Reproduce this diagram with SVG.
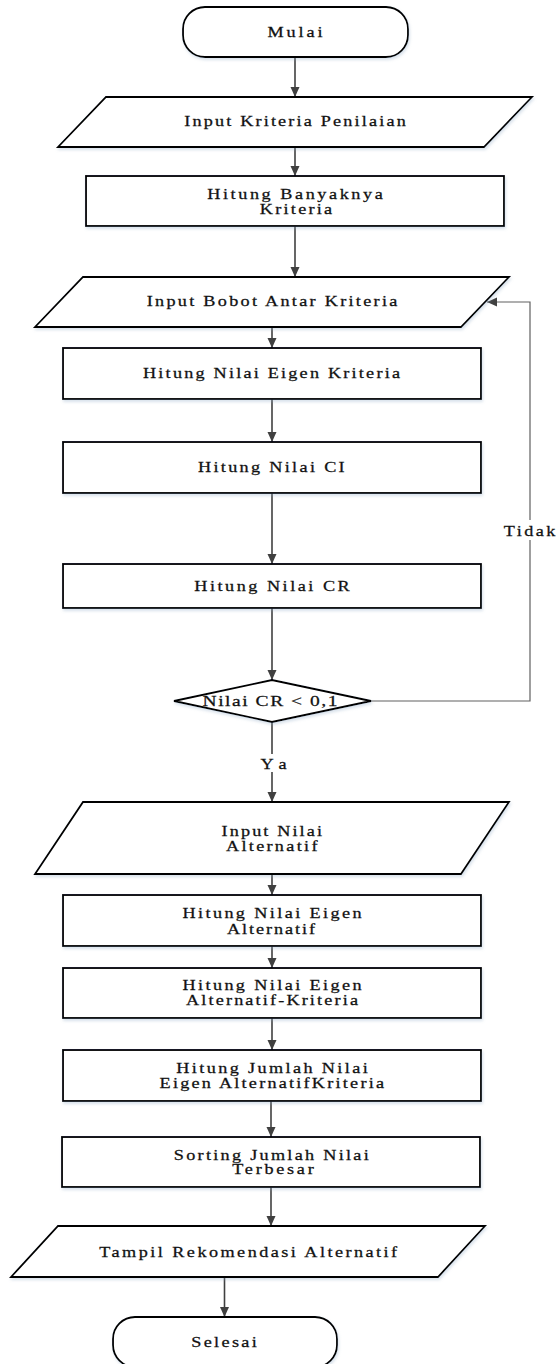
<svg xmlns="http://www.w3.org/2000/svg" width="556" height="1364" viewBox="0 0 556 1364">
  <style>
    .shape { fill: #ffffff; stroke: #000000; stroke-width: 1.8; filter: url(#soft); }
    .flow { fill: none; stroke: #404040; stroke-width: 1.6; marker-end: url(#arrow); }
    .loop { fill: none; stroke: #606060; stroke-width: 1.2; }
    .label { font-family: "Liberation Serif", "Times New Roman", serif; font-size: 14px; fill: #111111; stroke: #111111; stroke-width: 0.25; text-anchor: middle; }
    .cond { font-size: 15px; }
  </style>
  <defs>
    <filter id="soft" x="-5%" y="-10%" width="110%" height="130%">
      <feDropShadow dx="1" dy="2" stdDeviation="1.5" flood-color="#8fa9c4" flood-opacity="0.35"/>
    </filter>
    <marker id="arrow" markerUnits="userSpaceOnUse" markerWidth="10" markerHeight="10" viewBox="0 0 10 10" refX="10" refY="5" orient="auto">
      <path d="M0,0.5 L10,5 L0,9.5 Z" fill="#404040"/>
    </marker>
  </defs>

  <!-- connectors; labels are widened 1.3x like the rest of the chart's lettering -->
  <g id="connectors">
    <line class="flow" x1="295" y1="57" x2="295" y2="97"/>
    <line class="flow" x1="295" y1="147" x2="295" y2="176"/>
    <line class="flow" x1="295" y1="226" x2="295" y2="277"/>
    <line class="flow" x1="272" y1="327" x2="272" y2="348"/>
    <line class="flow" x1="272" y1="399" x2="272" y2="442"/>
    <line class="flow" x1="272" y1="493" x2="272" y2="564"/>
    <line class="flow" x1="272" y1="608" x2="272" y2="680"/>
    <line class="flow" x1="272" y1="722" x2="272" y2="802"/>
    <line class="flow" x1="272" y1="874" x2="272" y2="895"/>
    <line class="flow" x1="272" y1="946" x2="272" y2="968"/>
    <line class="flow" x1="272" y1="1018" x2="272" y2="1050"/>
    <line class="flow" x1="271" y1="1101" x2="271" y2="1137"/>
    <line class="flow" x1="271" y1="1187" x2="271" y2="1226"/>
    <line class="flow" x1="224.5" y1="1277" x2="224.5" y2="1317"/>
    <!-- "Tidak" branch back to the weight input -->
    <polyline class="loop" points="371,701 530,701 530,302 487,302" marker-end="url(#arrow)"/>
    <rect x="503" y="520" width="53" height="20" fill="#ffffff"/>
    <text class="label" transform="translate(529.5,535.5) scale(1.3,1)" textLength="39.6" lengthAdjust="spacing">Tidak</text>
    <rect x="259" y="754" width="28" height="18" fill="#ffffff"/>
    <text class="label" transform="translate(273.5,768.5) scale(1.3,1)" textLength="20" lengthAdjust="spacing">Ya</text>
  </g>

  <g id="mulai">
    <rect class="shape" x="183" y="7" width="225" height="50" rx="22" ry="22"/>
    <text class="label" transform="translate(295,37) scale(1.3,1)" textLength="42.3" lengthAdjust="spacing">Mulai</text>
  </g>

  <g id="input-kriteria">
    <polygon class="shape" points="106,97 532,97 484,147 58,147"/>
    <text class="label" transform="translate(295,126) scale(1.3,1)" textLength="170.5" lengthAdjust="spacing">Input Kriteria Penilaian</text>
  </g>

  <g id="hitung-banyaknya">
    <rect class="shape" x="86" y="176" width="418" height="50"/>
    <text class="label" transform="translate(295,199) scale(1.3,1)" textLength="135" lengthAdjust="spacing">Hitung Banyaknya</text>
    <text class="label" transform="translate(296,213.5) scale(1.3,1)" textLength="55.6" lengthAdjust="spacing">Kriteria</text>
  </g>

  <g id="input-bobot">
    <polygon class="shape" points="83,277 509,277 461,327 35,327"/>
    <text class="label" transform="translate(272,306) scale(1.3,1)" textLength="192.8" lengthAdjust="spacing">Input Bobot Antar Kriteria</text>
  </g>

  <g id="eigen-kriteria">
    <rect class="shape" x="63" y="348" width="418" height="51"/>
    <text class="label" transform="translate(271.5,377.5) scale(1.3,1)" textLength="197.7" lengthAdjust="spacing">Hitung Nilai Eigen Kriteria</text>
  </g>

  <g id="nilai-ci">
    <rect class="shape" x="63" y="442" width="418" height="51"/>
    <text class="label" transform="translate(271.3,471.5) scale(1.3,1)" textLength="112.9" lengthAdjust="spacing">Hitung Nilai CI</text>
  </g>

  <g id="nilai-cr">
    <rect class="shape" x="63" y="564" width="418" height="44"/>
    <text class="label" transform="translate(272,591) scale(1.3,1)" textLength="119.5" lengthAdjust="spacing">Hitung Nilai CR</text>
  </g>

  <g id="cek-cr">
    <polygon class="shape" points="174,701 272,680 371,701 272,722"/>
    <text class="label cond" transform="translate(270,706) scale(1.3,1)" textLength="103.8" lengthAdjust="spacing">Nilai CR &lt; 0,1</text>
  </g>

  <g id="input-alternatif">
    <polygon class="shape" points="83,802 509,802 461,874 35,874"/>
    <text class="label" transform="translate(271.8,836) scale(1.3,1)" textLength="77.2" lengthAdjust="spacing">Input Nilai</text>
    <text class="label" transform="translate(271.7,851) scale(1.3,1)" textLength="70.4" lengthAdjust="spacing">Alternatif</text>
  </g>

  <g id="eigen-alternatif">
    <rect class="shape" x="63" y="895" width="418" height="51"/>
    <text class="label" transform="translate(272,917.5) scale(1.3,1)" textLength="137.7" lengthAdjust="spacing">Hitung Nilai Eigen</text>
    <text class="label" transform="translate(271,934) scale(1.3,1)" textLength="67.7" lengthAdjust="spacing">Alternatif</text>
  </g>

  <g id="eigen-alt-kriteria">
    <rect class="shape" x="63" y="968" width="418" height="50"/>
    <text class="label" transform="translate(272,990) scale(1.3,1)" textLength="137.7" lengthAdjust="spacing">Hitung Nilai Eigen</text>
    <text class="label" transform="translate(272,1005) scale(1.3,1)" textLength="132.3" lengthAdjust="spacing">Alternatif-Kriteria</text>
  </g>

  <g id="jumlah-eigen">
    <rect class="shape" x="63" y="1050" width="418" height="51"/>
    <text class="label" transform="translate(272,1072.5) scale(1.3,1)" textLength="147.3" lengthAdjust="spacing">Hitung Jumlah Nilai</text>
    <text class="label" transform="translate(271.8,1087.5) scale(1.3,1)" textLength="172.7" lengthAdjust="spacing">Eigen AlternatifKriteria</text>
  </g>

  <g id="sorting">
    <rect class="shape" x="62" y="1137" width="418" height="50"/>
    <text class="label" transform="translate(271.3,1160) scale(1.3,1)" textLength="150" lengthAdjust="spacing">Sorting Jumlah Nilai</text>
    <text class="label" transform="translate(273,1174) scale(1.3,1)" textLength="62.7" lengthAdjust="spacing">Terbesar</text>
  </g>

  <g id="tampil">
    <polygon class="shape" points="58,1226 485,1226 438,1277 11,1277"/>
    <text class="label" transform="translate(248.2,1256.5) scale(1.3,1)" textLength="229.2" lengthAdjust="spacing">Tampil Rekomendasi Alternatif</text>
  </g>

  <g id="selesai">
    <rect class="shape" x="113" y="1317" width="224" height="50" rx="22" ry="22"/>
    <text class="label" transform="translate(224,1347) scale(1.3,1)" textLength="50.5" lengthAdjust="spacing">Selesai</text>
  </g>
</svg>
